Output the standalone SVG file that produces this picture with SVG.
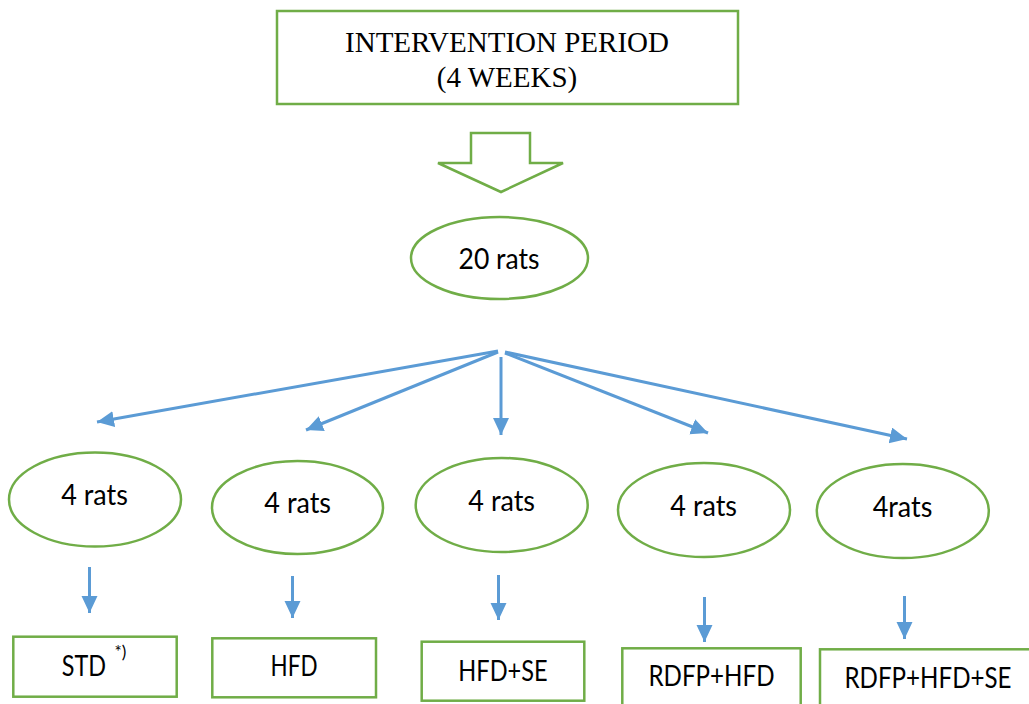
<svg xmlns="http://www.w3.org/2000/svg" width="1029" height="704" viewBox="0 0 1029 704">
<style>
.g{fill:#fff;stroke:#70AD47;stroke-width:2.5}
.c{fill:none;stroke:#5B9BD5;stroke-width:3}
.t{font-family:Lato,"Liberation Sans",sans-serif;font-size:28px;fill:#000;text-anchor:middle}
.s{font-family:"Liberation Serif","Times New Roman",serif;font-size:29px;fill:#000;text-anchor:middle}
</style>
<defs>
<marker id="ah" markerUnits="userSpaceOnUse" markerWidth="18" markerHeight="18" refX="17" refY="8" orient="auto">
<path d="M0,0 L17,8 L0,16 Z" fill="#5B9BD5"/>
</marker>
</defs>
<rect width="1029" height="704" fill="#fff"/>
<g id="period">
<rect class="g" x="277" y="11" width="461" height="93"/>
<text class="s" x="507" y="52">INTERVENTION PERIOD</text>
<text class="s" x="507" y="87">(4 WEEKS)</text>
</g>
<g id="blockarrow">
<polygon class="g" points="471,133 530,133 530,163 563,163 501,192 438,163 471,163"/>
</g>
<g id="total">
<ellipse class="g" cx="499.5" cy="258" rx="88.5" ry="41"/>
<text class="t" x="499" y="269" textLength="81" lengthAdjust="spacingAndGlyphs">20 rats</text>
</g>
<g id="connectors">
<line class="c" x1="498" y1="351" x2="97" y2="422" marker-end="url(#ah)"/>
<line class="c" x1="498" y1="352" x2="306" y2="430" marker-end="url(#ah)"/>
<line class="c" x1="501" y1="357" x2="501" y2="435" marker-end="url(#ah)"/>
<line class="c" x1="505" y1="353" x2="708" y2="433" marker-end="url(#ah)"/>
<line class="c" x1="505" y1="352" x2="907" y2="439" marker-end="url(#ah)"/>
<line class="c" x1="89.5" y1="567" x2="89.5" y2="613" marker-end="url(#ah)"/>
<line class="c" x1="292.5" y1="576" x2="292.5" y2="618" marker-end="url(#ah)"/>
<line class="c" x1="498.5" y1="575" x2="498.5" y2="620" marker-end="url(#ah)"/>
<line class="c" x1="704.5" y1="597" x2="704.5" y2="642" marker-end="url(#ah)"/>
<line class="c" x1="904.5" y1="596" x2="904.5" y2="639" marker-end="url(#ah)"/>
</g>
<g id="group1">
<ellipse class="g" cx="95" cy="499.5" rx="86" ry="47"/>
<text class="t" x="94.5" y="505" textLength="66.7" lengthAdjust="spacingAndGlyphs">4 rats</text>
</g>
<g id="group2">
<ellipse class="g" cx="297.5" cy="507.5" rx="85.5" ry="46.5"/>
<text class="t" x="297.7" y="513" textLength="66.7" lengthAdjust="spacingAndGlyphs">4 rats</text>
</g>
<g id="group3">
<ellipse class="g" cx="501.7" cy="505" rx="86" ry="47"/>
<text class="t" x="501.7" y="511" textLength="66.7" lengthAdjust="spacingAndGlyphs">4 rats</text>
</g>
<g id="group4">
<ellipse class="g" cx="704" cy="510" rx="86" ry="47"/>
<text class="t" x="703.7" y="516" textLength="66.7" lengthAdjust="spacingAndGlyphs">4 rats</text>
</g>
<g id="group5">
<ellipse class="g" cx="902.8" cy="511" rx="86" ry="47"/>
<text class="t" x="902.5" y="517" textLength="59.7" lengthAdjust="spacingAndGlyphs">4rats</text>
</g>
<g id="std">
<rect class="g" x="13.3" y="636.7" width="163.4" height="60"/>
<text class="t" x="84" y="676" textLength="44.3" lengthAdjust="spacingAndGlyphs">STD</text>
<text class="t" x="120.5" y="658" style="font-size:17px">*)</text>
</g>
<g id="hfd">
<rect class="g" x="212.3" y="638.3" width="163.7" height="59"/>
<text class="t" x="294" y="676" textLength="47" lengthAdjust="spacingAndGlyphs">HFD</text>
</g>
<g id="hfdse">
<rect class="g" x="421.7" y="641.7" width="162.6" height="59"/>
<text class="t" x="503" y="680.7" textLength="89.3" lengthAdjust="spacingAndGlyphs">HFD+SE</text>
</g>
<g id="rdfphfd">
<rect class="g" x="622.3" y="648.3" width="178.4" height="70"/>
<text class="t" x="711.5" y="686" textLength="126" lengthAdjust="spacingAndGlyphs">RDFP+HFD</text>
</g>
<g id="rdfphfdse">
<rect class="g" x="820" y="649.3" width="216" height="70"/>
<text class="t" x="928" y="687.7" textLength="167" lengthAdjust="spacingAndGlyphs">RDFP+HFD+SE</text>
</g>
</svg>
